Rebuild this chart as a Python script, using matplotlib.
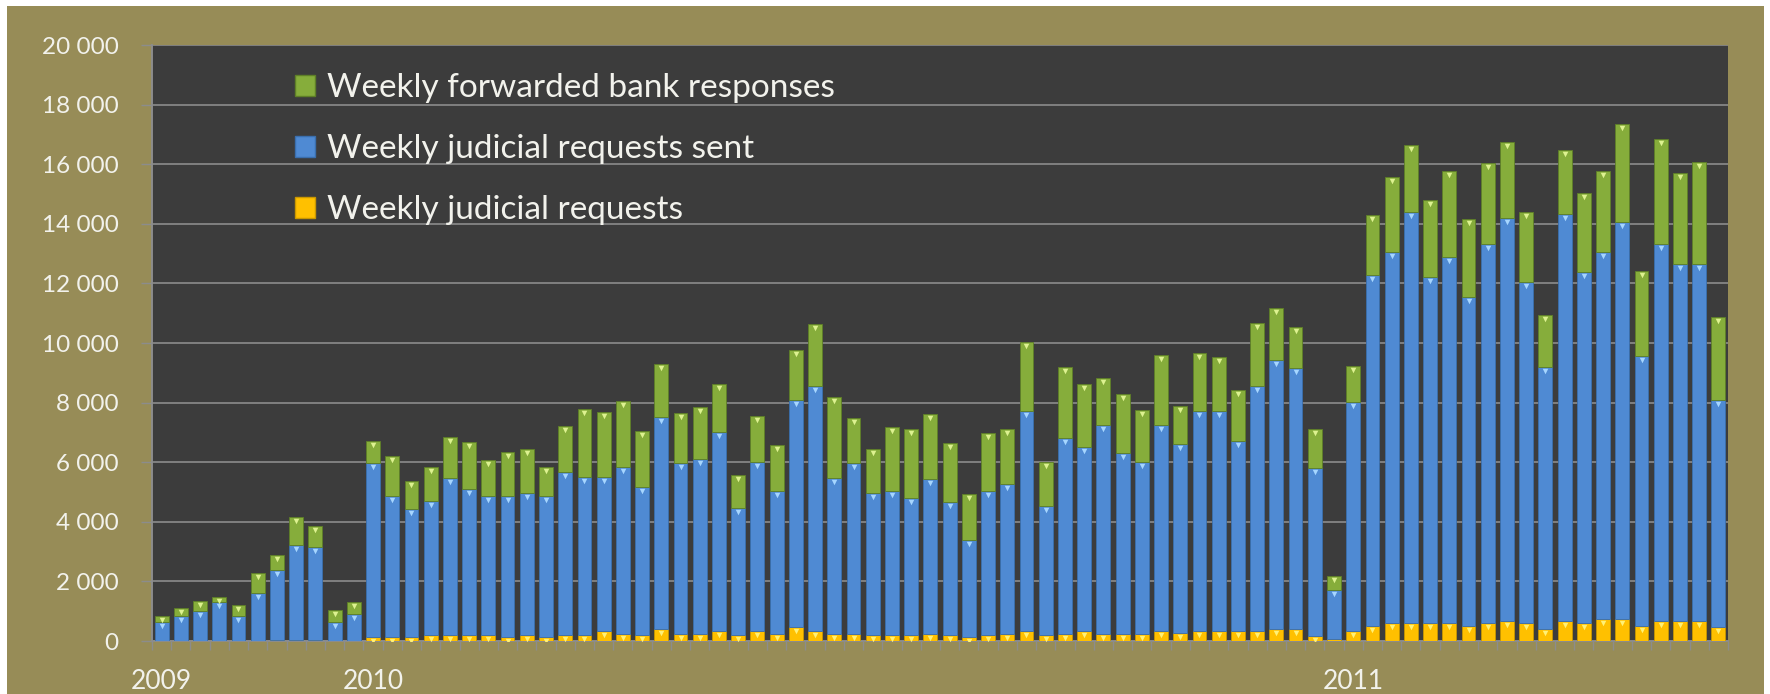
import numpy as np
import matplotlib.pyplot as plt
from matplotlib.patches import Rectangle, Patch
from matplotlib.transforms import offset_copy

plt.rcParams['font.family'] = ['Lato', 'DejaVu Sans']

# weekly values, 2009 -> 2011 (82 weeks), stacked segments
requests = [0, 0, 0, 0, 0, 0, 50, 50, 50, 0, 0,
            150, 150, 150, 200, 200, 200, 200, 120, 200, 120,
            200, 200, 340, 250, 200, 400, 250, 250, 340, 200,
            340, 250, 480, 340, 250, 250, 200, 200, 200, 250,
            200, 120, 200, 250, 340, 200, 250, 340, 250, 250,
            250, 340, 260, 340, 340, 340, 340, 400, 400, 180,
            60, 340,
            520, 600, 600, 600, 600, 520, 600, 670, 600, 400,
            670, 600, 750, 750, 520, 670, 670, 670, 480]
sent = [630, 850, 1000, 1300, 850, 1610, 2330, 3170, 3090, 640, 890,
        5830, 4730, 4280, 4490, 5260, 4900, 4670, 4750, 4760, 4750,
        5480, 5310, 5170, 5580, 4980, 7130, 5710, 5860, 6690, 4270,
        5650, 4800, 7610, 8220, 5210, 5710, 4760, 4830, 4590, 5190,
        4480, 3270, 4850, 5020, 7390, 4340, 6550, 6180, 7000, 6070,
        5740, 6910, 6340, 7380, 7380, 6380, 8220, 9030, 8750, 5640,
        1650, 7690,
        11760, 12470, 13810, 11630, 12280, 11040, 12720, 13520, 11460, 8810,
        13660, 11790, 12290, 13300, 9050, 12650, 11970, 11970, 7610]
forwarded = [220, 270, 340, 190, 370, 680, 500, 930, 730, 410, 410,
             720, 1330, 930, 1160, 1380, 1590, 1200, 1480, 1470, 980,
             1540, 2270, 2190, 2240, 1880, 1760, 1680, 1730, 1600, 1100,
             1560, 1530, 1660, 2070, 2740, 1530, 1470, 2160, 2330, 2170,
             1950, 1530, 1940, 1850, 2320, 1450, 2390, 2090, 1590, 1960,
             1760, 2350, 1290, 1960, 1820, 1700, 2120, 1730, 1380, 1300,
             470, 1200,
             2020, 2490, 2240, 2570, 2900, 2600, 2730, 2570, 2350, 1730,
             2150, 2660, 2730, 3300, 2860, 3520, 3060, 3420, 2790]

year_pos = [0, 11, 62]
year_labels = ["2009", "2010", "2011"]

labels = ["Weekly forwarded bank responses",
          "Weekly judicial requests sent",
          "Weekly judicial requests"]
c_green = "#86AD3B"
c_blue = "#4F8AD3"
c_yellow = "#FFC000"
olive = "#978C57"
plot_bg = "#3C3C3C"
grid_c = "#8C8C8C"
txt_c = "#F2F2EC"

x = np.arange(len(sent))
req = np.array(requests)
snt = np.array(sent)
fwd = np.array(forwarded)

fig = plt.figure(figsize=(17.7, 6.94), dpi=100, facecolor="white")
# olive panel with thin white margin top/left/right
fig.patches.append(Rectangle((7 / 1770, 0), 1757 / 1770, 688 / 694,
                             transform=fig.transFigure, facecolor=olive,
                             edgecolor="none", zorder=-10))
ax = fig.add_axes([152 / 1770, 1 - 641 / 694, 1576 / 1770, 596 / 694])
ax.set_zorder(1)
ax.set_facecolor(plot_bg)

w = 0.72
ax.bar(x, req, w, color=c_yellow, edgecolor="#C99700", linewidth=0.6, zorder=3)
ax.bar(x, snt, w, bottom=req, color=c_blue, edgecolor="#3A6FAE", linewidth=0.6, zorder=3)
ax.bar(x, fwd, w, bottom=req + snt, color=c_green, edgecolor="#5E7F27", linewidth=0.6, zorder=3)

# small bevel highlights just inside the top of each segment (Excel style)
tri = offset_copy(ax.transData, fig=fig, y=-4, units="dots")
has_req = req > 100
ax.scatter(x[has_req], req[has_req], marker="v", s=16, color="#FFF176",
           linewidths=0, zorder=4, transform=tri)
ax.scatter(x, req + snt, marker="v", s=16, color="#A6D6FF", linewidths=0,
           zorder=4, transform=tri)
ax.scatter(x, req + snt + fwd, marker="v", s=16, color="#DDF290", linewidths=0,
           zorder=4, transform=tri)

ax.set_xlim(-0.5, len(x) - 0.5)
ax.set_ylim(0, 20000)
yt = np.arange(0, 20001, 2000)
ax.set_yticks(yt)
ax.set_yticklabels([f"{v:,}".replace(",", " ") for v in yt])
ax.yaxis.grid(True, color=grid_c, linewidth=1.2)
ax.set_axisbelow(True)

ax.set_xticks(year_pos)
ax.set_xticklabels(year_labels)
ax.set_xticks(np.arange(-0.5, len(x), 1), minor=True)
ax.tick_params(axis="x", which="major", length=0, pad=20, labelsize=19, colors=txt_c)
ax.tick_params(axis="x", which="minor", length=6.5, width=1, color=grid_c, direction="out")
ax.tick_params(axis="y", which="major", length=8, width=1, color=grid_c,
               pad=16, labelsize=17.5, labelcolor=txt_c)

for s in ["top", "right"]:
    ax.spines[s].set_visible(False)
for s in ["left", "bottom"]:
    ax.spines[s].set_color(grid_c)
    ax.spines[s].set_linewidth(1.4)

handles = [Patch(facecolor=c_green, edgecolor="#5E7F27"),
           Patch(facecolor=c_blue, edgecolor="#3A6FAE"),
           Patch(facecolor=c_yellow, edgecolor="#C99700")]
leg = ax.legend(handles, labels, loc="upper left",
                bbox_to_anchor=(0.082, 0.975), frameon=False,
                fontsize=24, handlelength=0.62, handleheight=0.62,
                handletextpad=0.35, labelspacing=0.93, borderaxespad=0)
for t in leg.get_texts():
    t.set_color(txt_c)

fig.savefig("out.png", dpi=100, facecolor=fig.get_facecolor())
